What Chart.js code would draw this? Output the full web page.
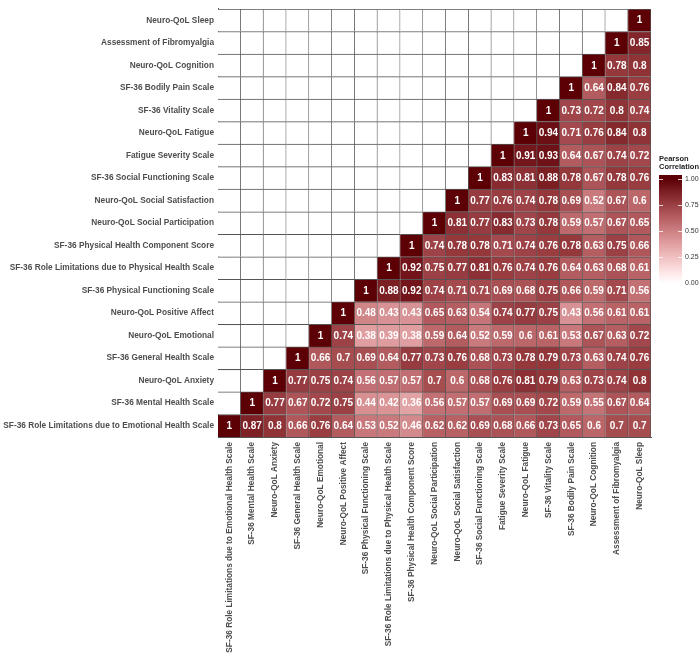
<!DOCTYPE html>
<html>
<head>
<meta charset="utf-8">
<script src="https://cdn.jsdelivr.net/npm/chart.js@4.4.1/dist/chart.umd.min.js"></script>
<style>
  html, body { margin: 0; padding: 0; background: #fff; }
  #wrap { width: 700px; height: 659px; }
</style>
</head>
<body>
<div id="wrap"><canvas id="chart-corr"></canvas></div>
<script>
// variables, bottom row / left column first
const variables = [
  'SF-36 Role Limitations due to Emotional Health Scale',
  'SF-36 Mental Health Scale',
  'Neuro-QoL Anxiety',
  'SF-36 General Health Scale',
  'Neuro-QoL Emotional',
  'Neuro-QoL Positive Affect',
  'SF-36 Physical Functioning Scale',
  'SF-36 Role Limitations due to Physical Health Scale',
  'SF-36 Physical Health Component Score',
  'Neuro-QoL Social Participation',
  'Neuro-QoL Social Satisfaction',
  'SF-36 Social Functioning Scale',
  'Fatigue Severity Scale',
  'Neuro-QoL Fatigue',
  'SF-36 Vitality Scale',
  'SF-36 Bodily Pain Scale',
  'Neuro-QoL Cognition',
  'Assessment of Fibromyalgia',
  'Neuro-QoL Sleep'
];

// row k holds r(k, j) for j = k .. 18
const corrRows = [
  [1, 0.87, 0.8, 0.66, 0.76, 0.64, 0.53, 0.52, 0.46, 0.62, 0.62, 0.69, 0.68, 0.66, 0.73, 0.65, 0.6, 0.7, 0.7],
  [1, 0.77, 0.67, 0.72, 0.75, 0.44, 0.42, 0.36, 0.56, 0.57, 0.57, 0.69, 0.69, 0.72, 0.59, 0.55, 0.67, 0.64],
  [1, 0.77, 0.75, 0.74, 0.56, 0.57, 0.57, 0.7, 0.6, 0.68, 0.76, 0.81, 0.79, 0.63, 0.73, 0.74, 0.8],
  [1, 0.66, 0.7, 0.69, 0.64, 0.77, 0.73, 0.76, 0.68, 0.73, 0.78, 0.79, 0.73, 0.63, 0.74, 0.76],
  [1, 0.74, 0.38, 0.39, 0.38, 0.59, 0.64, 0.52, 0.59, 0.6, 0.61, 0.53, 0.67, 0.63, 0.72],
  [1, 0.48, 0.43, 0.43, 0.65, 0.63, 0.54, 0.74, 0.77, 0.75, 0.43, 0.56, 0.61, 0.61],
  [1, 0.88, 0.92, 0.74, 0.71, 0.71, 0.69, 0.68, 0.75, 0.66, 0.59, 0.71, 0.56],
  [1, 0.92, 0.75, 0.77, 0.81, 0.76, 0.74, 0.76, 0.64, 0.63, 0.68, 0.61],
  [1, 0.74, 0.78, 0.78, 0.71, 0.74, 0.76, 0.78, 0.63, 0.75, 0.66],
  [1, 0.81, 0.77, 0.83, 0.73, 0.78, 0.59, 0.57, 0.67, 0.65],
  [1, 0.77, 0.76, 0.74, 0.78, 0.69, 0.52, 0.67, 0.6],
  [1, 0.83, 0.81, 0.88, 0.78, 0.67, 0.78, 0.76],
  [1, 0.91, 0.93, 0.64, 0.67, 0.74, 0.72],
  [1, 0.94, 0.71, 0.76, 0.84, 0.8],
  [1, 0.73, 0.72, 0.8, 0.74],
  [1, 0.64, 0.84, 0.76],
  [1, 0.78, 0.8],
  [1, 0.85],
  [1]
];

const legendTicks = [0, 0.25, 0.5, 0.75, 1];

const labelColor = '#4d4d4d';
const lineColor = '#555';
const fontFamily = "'Liberation Sans', Arial, sans-serif";

// white -> dark maroon, red channel falls off slower (lab-ish)
function fillFor(t) {
  const r = Math.round(255 - (255 - 92) * Math.pow(t, 1.7));
  const g = Math.round(255 * (1 - t));
  const b = Math.round(255 - 250 * t);
  return `rgb(${r}, ${g}, ${b})`;
}

const datasets = variables.map((name, k) => ({
  label: name,
  data: variables.map(() => 1),
  backgroundColor: variables.map((_, j) => (j >= k ? fillFor(corrRows[k][j - k]) : '#fff')),
  borderColor: lineColor,
  borderWidth: { top: 1, right: 1, bottom: 0, left: 0 },
  borderSkipped: false,
  barPercentage: 1,
  categoryPercentage: 1,
}));

const cellLabels = {
  id: 'cellLabels',
  afterDatasetsDraw(chart) {
    const ctx = chart.ctx;
    ctx.save();
    ctx.font = `bold 10px ${fontFamily}`;
    ctx.fillStyle = '#fff';
    ctx.textAlign = 'center';
    ctx.textBaseline = 'middle';
    chart.data.datasets.forEach((ds, k) => {
      chart.getDatasetMeta(k).data.forEach((bar, j) => {
        if (j < k) return;
        ctx.fillText(String(corrRows[k][j - k]), bar.x, (bar.y + bar.base) / 2 + 0.5);
      });
    });
    ctx.restore();
  },
};

const colorBar = {
  id: 'colorBar',
  afterDraw(chart) {
    const ctx = chart.ctx;
    const x0 = 659, w = 23, top = 175, bottom = 287;
    const yAt = (v) => 283 - v * (283 - 179);
    ctx.save();
    ctx.font = `bold 7.5px ${fontFamily}`;
    ctx.fillStyle = '#222';
    ctx.textAlign = 'left';
    ctx.textBaseline = 'alphabetic';
    ctx.fillText('Pearson', x0, 161);
    ctx.fillText('Correlation', x0, 169);

    const grad = ctx.createLinearGradient(0, yAt(0), 0, yAt(1));
    for (let i = 0; i <= 20; i++) grad.addColorStop(i / 20, fillFor(i / 20));
    ctx.fillStyle = grad;
    ctx.fillRect(x0, top, w, bottom - top);

    ctx.strokeStyle = 'rgba(255,255,255,0.8)';
    ctx.lineWidth = 1;
    ctx.font = `7px ${fontFamily}`;
    ctx.fillStyle = '#333';
    ctx.textBaseline = 'middle';
    legendTicks.forEach((v) => {
      const y = Math.round(yAt(v)) + 0.5;
      ctx.beginPath();
      ctx.moveTo(x0, y); ctx.lineTo(x0 + 4, y);
      ctx.moveTo(x0 + w - 4, y); ctx.lineTo(x0 + w, y);
      ctx.stroke();
      ctx.fillText(v.toFixed(2), x0 + w + 3, y);
    });
    ctx.restore();
  },
};

new Chart(document.getElementById('chart-corr'), {
  type: 'bar',
  data: { labels: variables, datasets },
  options: {
    responsive: true,
    maintainAspectRatio: false,
    animation: false,
    layout: { padding: { top: 4, right: 49, left: 0, bottom: 0 } },
    plugins: { legend: { display: false }, tooltip: { enabled: false } },
    scales: {
      x: {
        type: 'category',
        stacked: true,
        offset: true,
        grid: { display: false, drawTicks: false },
        border: { display: true, color: lineColor },
        ticks: {
          autoSkip: false,
          maxRotation: 90,
          minRotation: 90,
          padding: 5,
          color: labelColor,
          font: { family: fontFamily, size: 8.3, weight: 'bold' },
        },
        afterFit: (scale) => { scale.height = 222; },
      },
      y: {
        type: 'linear',
        stacked: true,
        min: 0,
        max: 19,
        grid: { display: false, drawTicks: false },
        border: { display: true, color: lineColor },
        afterBuildTicks: (scale) => {
          scale.ticks = variables.map((_, i) => ({ value: i + 0.5 }));
        },
        ticks: {
          autoSkip: false,
          padding: 4,
          color: labelColor,
          font: { family: fontFamily, size: 8.3, weight: 'bold' },
          callback: (v) => variables[Math.floor(v)],
        },
        afterFit: (scale) => { scale.width = 218; },
      },
    },
  },
  plugins: [cellLabels, colorBar],
});
</script>
</body>
</html>
